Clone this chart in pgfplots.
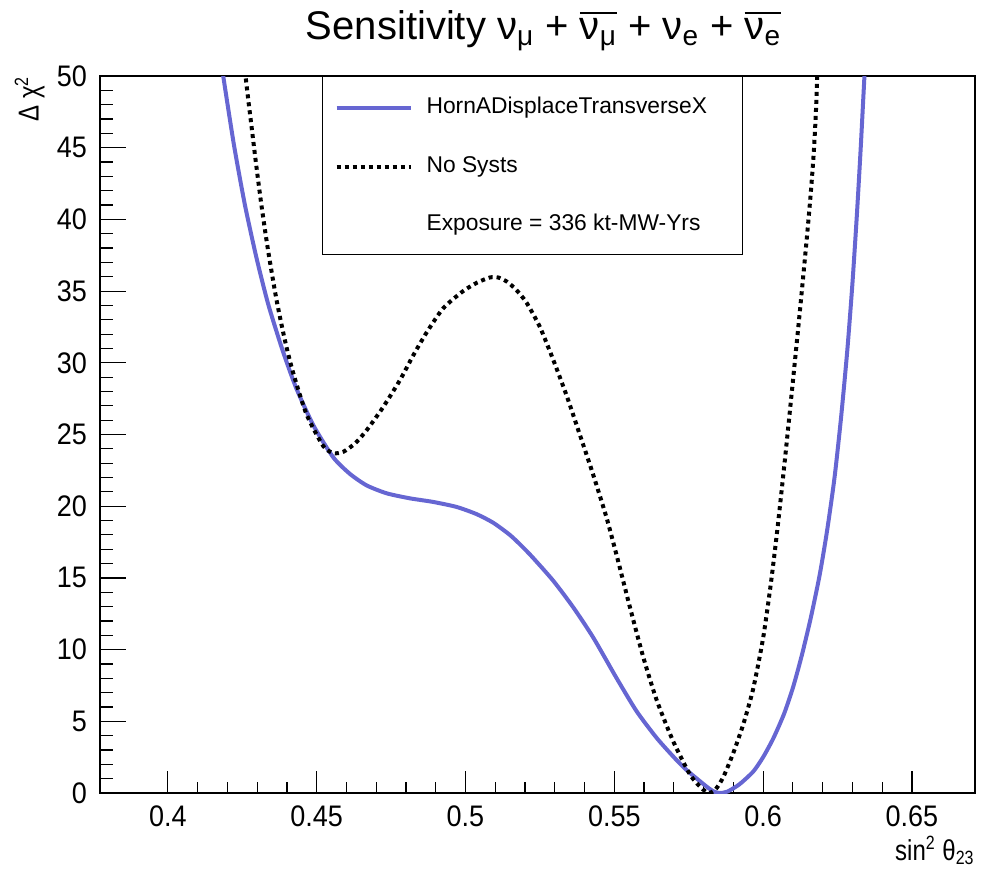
\documentclass[border=0pt]{standalone}
\usepackage{pgfplots}
\pgfplotsset{compat=1.18}
\usepackage{fontspec}
\setmainfont{Liberation Sans}
\definecolor{curveblue}{RGB}{102,102,210}
\newcommand{\ovl}[1]{\leavevmode\vbox{\hrule height 1.2pt\kern 1.8pt\hbox{#1}}}
\begin{document}
\begin{tikzpicture}
\useasboundingbox (-50pt,-40.5pt) rectangle (444pt,396.5pt);
\begin{axis}[
  at={(0pt,0pt)}, anchor=south west,
  scale only axis, width=437.5pt, height=358.5pt,
  xmin=0.3772, xmax=0.6712, ymin=0, ymax=50,
  xtick={0.4,0.45,0.5,0.55,0.6,0.65},
  ytick={0,5,10,15,20,25,30,35,40,45,50},
  minor x tick num=4, minor y tick num=4,
  xtick pos=bottom, ytick pos=left, tick align=inside,
  xtick style={/pgfplots/major tick length=11pt,/pgfplots/minor tick length=5.5pt,black,line width=0.6pt},
  ytick style={/pgfplots/major tick length=13pt,/pgfplots/minor tick length=6.5pt,black,line width=0.6pt},
  axis line style={line width=0.7pt},
  xticklabel={\scalebox{1}[1.1]{\pgfmathprintnumber[assume math mode=true]{\tick}}},
  yticklabel={\scalebox{1}[1.1]{\pgfmathprintnumber[assume math mode=true]{\tick}}},
  xticklabel style={font=\fontsize{13.5}{15}\selectfont, yshift=-3pt},
  yticklabel style={font=\fontsize{13.5}{15}\selectfont, xshift=-3pt},
  scaled ticks=false,
  xlabel={\scalebox{1}[1.2]{sin\textsuperscript{2} θ\textsubscript{23}}},
  xlabel style={font=\fontsize{12}{14}\selectfont, inner sep=0pt, at={(axis description cs:1,0)}, anchor=base east, yshift=-33.5pt},
  ylabel={\scalebox{1}[1.2]{Δ χ\textsuperscript{2}}},
  ylabel style={font=\fontsize{12}{14}\selectfont, inner sep=0pt, at={(axis description cs:-0.063,1)}, anchor=south east, rotate=0},
  title={Sensitivity ν\textsubscript{μ} + \ovl{ν\textsubscript{μ}} + ν\textsubscript{e} + \ovl{ν\textsubscript{e}}},
  title style={font=\fontsize{20}{23}\selectfont, at={(axis description cs:0.507,1)}, anchor=base, yshift=12.5pt},
  legend style={at={(axis description cs:0.2537,1)}, anchor=north west, draw=black, line width=0.6pt,
    inner xsep=6pt, inner ysep=9.5pt, row sep=18.5pt, column sep=7pt,
    nodes={inner sep=0pt, text height=8pt, text depth=2.5pt, font=\fontsize{11.4}{13}\selectfont}},
  legend cell align=left,
  legend image code/.code={\path[draw=none,fill=none] (0pt,-1pt) -- (0pt,6pt); \draw[#1] (0pt,0pt) -- (37pt,0pt);},
]
\addplot[color=curveblue, line width=2pt, smooth, tension=0.4] coordinates {
(0.4180,51) (0.4186,50.0) (0.4222,45.2) (0.4259,41.0) (0.4298,37.3) (0.4337,34.1)
(0.4385,30.9) (0.4432,28.2) (0.4490,25.6) (0.4556,23.4) (0.4612,22.25) (0.4668,21.45)
(0.4735,20.9) (0.4813,20.55) (0.4891,20.3) (0.4970,19.95) (0.5037,19.45) (0.5093,18.85)
(0.5149,18.0) (0.5190,17.2) (0.5227,16.4) (0.5295,14.8) (0.5362,12.95) (0.5429,10.85)
(0.5508,8.0) (0.5575,5.7) (0.5642,3.85) (0.5700,2.5) (0.5743,1.6) (0.5810,0.45)
(0.5835,0.1) (0.5855,0.0) (0.5880,0.1) (0.5920,0.6) (0.5967,1.5) (0.6000,2.5)
(0.6034,3.8) (0.6070,5.5) (0.6101,7.4) (0.6130,9.6) (0.6160,12.2) (0.6190,15.2)
(0.6215,18.3) (0.6240,22.0) (0.6262,26.2) (0.6283,30.9) (0.6300,35.5) (0.6315,40.3)
(0.6328,45.0) (0.6340,49.8) (0.6345,51.5)
};
\addlegendentry{\makebox[152pt][l]{HornADisplaceTransverseX}}
\addplot[color=black, line width=2pt, dash pattern=on 2pt off 2pt, smooth, tension=0.4] coordinates {
(0.4258,51.5) (0.4261,50.0) (0.4281,46.5) (0.4298,43.6) (0.4315,40.9) (0.4337,37.8)
(0.4365,34.4) (0.4393,31.6) (0.4421,29.3) (0.4466,26.4) (0.4522,24.2) (0.4556,23.7)
(0.4590,23.8) (0.4630,24.4) (0.4668,25.3) (0.4723,26.9) (0.4780,28.8) (0.4824,30.5)
(0.4869,32.1) (0.4925,33.8) (0.4992,35.0) (0.5040,35.6) (0.5082,35.95) (0.5110,35.95)
(0.5140,35.65) (0.5170,35.1) (0.5205,34.2) (0.5250,32.5) (0.5295,30.2) (0.5340,27.7)
(0.5384,25.0) (0.5429,22.2) (0.5474,19.2) (0.5510,16.4) (0.5552,13.0) (0.5597,9.5)
(0.5642,6.5) (0.5698,3.6) (0.5754,1.3) (0.5790,0.4) (0.5816,0.0) (0.5840,0.25)
(0.5866,1.1) (0.5900,2.8) (0.5935,4.9) (0.5967,7.3) (0.6000,10.8) (0.6026,14.6)
(0.6048,18.4) (0.6073,23.2) (0.6101,28.9) (0.6124,33.7) (0.6146,38.5) (0.6160,41.8)
(0.6170,44.6) (0.6177,47.3) (0.6182,50.0) (0.6184,51.5)
};
\addlegendentry{No Systs}
\addlegendimage{empty legend}
\addlegendentry{Exposure = 336 kt-MW-Yrs}
\end{axis}
\end{tikzpicture}
\end{document}
